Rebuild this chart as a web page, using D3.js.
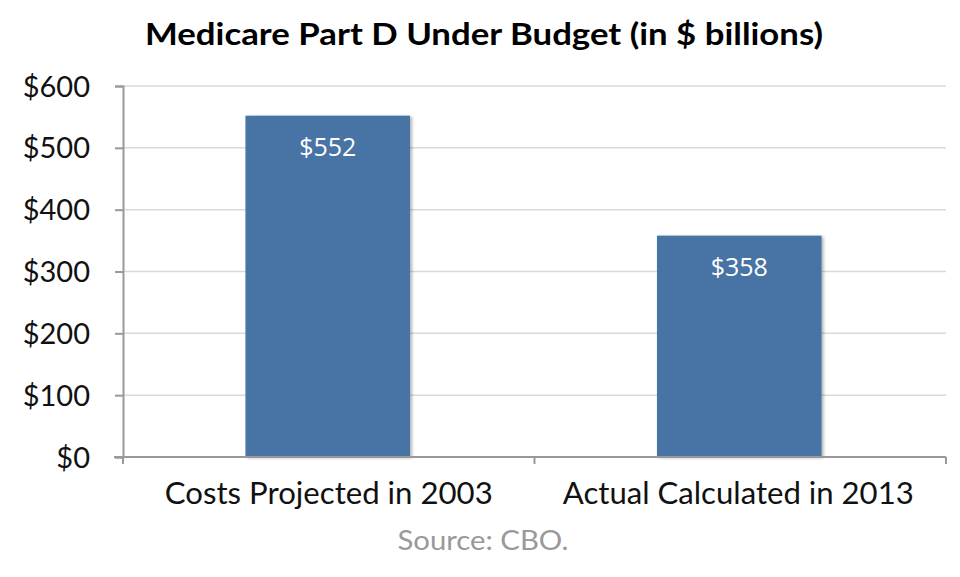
<!DOCTYPE html>
<html><head><meta charset="utf-8">
<script src="https://cdn.jsdelivr.net/npm/d3@7"></script>
<style>body{margin:0;background:#fff}</style>
</head><body>
<svg id="c" width="960" height="577"></svg>
<script>
const categories = ["Costs Projected in 2003", "Actual Calculated in 2013"];
const values = [552, 358];
const valueLabels = ["$552", "$358"];
const yTicks = [0, 100, 200, 300, 400, 500, 600];
const title = "Medicare Part D Under Budget (in $ billions)";
const source = "Source: CBO.";

(function(){
const svg = d3.select("#c");
const mLeft = 123, mRight = 946, mTop = 86, mBottom = 457;
const labelWidths = [328, 351];

const defs = svg.append("defs");
const f = defs.append("filter").attr("id","sh").attr("x","-10%").attr("y","-10%").attr("width","130%").attr("height","130%");
f.append("feDropShadow").attr("dx",2).attr("dy",1).attr("stdDeviation",1.5).attr("flood-color","#000").attr("flood-opacity",0.3);

const x = d3.scaleBand().domain(categories).range([mLeft, mRight]).paddingInner(0.6).paddingOuter(0.3);
const y = d3.scaleLinear().domain([0, 600]).range([mBottom, mTop]);

svg.append("g").selectAll("line").data(yTicks.filter(d=>d>0)).join("line")
  .attr("x1", mLeft).attr("x2", mRight).attr("y1", d=>y(d)).attr("y2", d=>y(d))
  .attr("stroke", "#d9d9d9").attr("stroke-width", 1.5);

svg.append("g").selectAll("rect").data(values).join("rect")
  .attr("x", (d,i)=>x(categories[i]) - 1).attr("width", x.bandwidth())
  .attr("y", d=>y(d)).attr("height", d=>y(0)-y(d))
  .attr("fill", "#4673a5").attr("filter","url(#sh)");

svg.append("g").selectAll("text").data(values).join("text")
  .attr("x", (d,i)=>x(categories[i]) + x.bandwidth()/2 - 1)
  .attr("y", d=>y(d) + 40)
  .attr("text-anchor","middle").attr("fill","#fff")
  .attr("font-family","'Open Sans', sans-serif").attr("font-size", 25)
  .text((d,i)=>valueLabels[i]);

const yAxis = d3.axisLeft(y).tickValues(yTicks).tickFormat(d=>"$"+d).tickSize(8).tickPadding(25);
const gy = svg.append("g").attr("transform", `translate(${mLeft},0)`).call(yAxis);
gy.select(".domain").attr("stroke","#999").attr("stroke-width",2);
gy.selectAll(".tick line").attr("stroke","#999").attr("stroke-width",2);
gy.selectAll(".tick text").attr("font-family","Lato, sans-serif").attr("font-size",29).attr("fill","#111").attr("dy","0.35em");

const xAxis = d3.axisBottom(x).tickSize(0).tickPadding(30);
const gx = svg.append("g").attr("transform", `translate(0,${mBottom})`).call(xAxis);
gx.select(".domain").attr("stroke","#999").attr("stroke-width",2).attr("d", `M${mLeft-9},0H${mRight}`);
gx.selectAll(".tick").attr("transform", (d,i)=>`translate(${x(d)+x.bandwidth()/2 - (i===1?2:0)},0)`);
gx.selectAll(".tick text").attr("font-family","Lato, sans-serif").attr("font-size",31).attr("fill","#111").attr("dy","0.55em")
  .attr("textLength",(d,i)=>labelWidths[i]).attr("lengthAdjust","spacingAndGlyphs");
const bounds = [mLeft, (mLeft+mRight)/2, mRight];
gx.append("g").selectAll("line").data(bounds).join("line")
  .attr("x1",d=>d).attr("x2",d=>d).attr("y1",0).attr("y2",7)
  .attr("stroke","#999").attr("stroke-width",2);

svg.append("text").attr("x", 484).attr("y", 45).attr("text-anchor","middle")
  .attr("font-family","Lato, sans-serif").attr("font-weight","bold").attr("font-size",31)
  .attr("fill","#000").attr("textLength",678).attr("lengthAdjust","spacingAndGlyphs").text(title);

svg.append("text").attr("x", 483).attr("y", 550).attr("text-anchor","middle")
  .attr("font-family","Lato, sans-serif").attr("font-size",27).attr("fill","#999")
  .attr("textLength",171).attr("lengthAdjust","spacingAndGlyphs").text(source);
})();
</script>
</body></html>
